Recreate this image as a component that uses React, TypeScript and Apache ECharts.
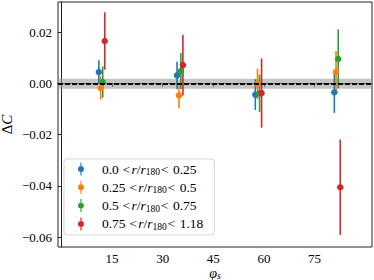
import React, { useEffect, useRef } from "react";
import * as echarts from "echarts";

// ---- data ----
const groupNames = [
  "0.0 < r/r180 < 0.25",
  "0.25 < r/r180 < 0.5",
  "0.5 < r/r180 < 0.75",
  "0.75 < r/r180 < 1.18",
];
const lowBounds = ["0.0", "0.25", "0.5", "0.75"];
const highBounds = ["0.25", "0.5", "0.75", "1.18"];
const colors = ["#1f77b4", "#ff7f0e", "#2ca02c", "#d62728"];

const phiBlue = [11.1, 34.25, 57.45, 80.85];
const dcBlue = [0.0044, 0.0031, -0.0044, -0.0035];
const errBlue = [0.0046, 0.0053, 0.006, 0.008];

const phiOrange = [11.65, 34.85, 58.1, 81.35];
const dcOrange = [-0.0018, -0.0047, -0.0002, 0.0044];
const errOrange = [0.0045, 0.005, 0.0059, 0.0082];

const phiGreen = [12.25, 35.4, 58.7, 82.0];
const dcGreen = [0.0005, 0.0048, -0.0039, 0.0095];
const errGreen = [0.0061, 0.007, 0.0073, 0.0115];

const phiRed = [12.85, 36.0, 59.3, 82.6];
const dcRed = [0.0165, 0.0071, -0.0038, -0.0405];
const errRed = [0.0112, 0.0118, 0.0135, 0.0186];

const xTicks = [15, 30, 45, 60, 75];
const yTicks = [-0.06, -0.04, -0.02, 0, 0.02];
const bandTop = 0.0018;
const bandBottom = -0.0021;
const refLevel = 0;

const groups = [
  { x: phiBlue, y: dcBlue, e: errBlue },
  { x: phiOrange, y: dcOrange, e: errOrange },
  { x: phiGreen, y: dcGreen, e: errGreen },
  { x: phiRed, y: dcRed, e: errRed },
];

const FONT = "Liberation Serif";
const ICON =
  "path://M4.4,0 L5.6,0 L5.6,14 L4.4,14 Z M1.8,7 A3.2,3.2 0 1,1 8.2,7 A3.2,3.2 0 1,1 1.8,7 Z";

export default function App() {
  const ref = useRef<HTMLDivElement>(null);
  useEffect(() => {
    if (!ref.current) return;
    const chart = echarts.init(ref.current, undefined, { renderer: "svg" });
    const series: any[] = [];
    series.push({
      type: "scatter",
      name: "band",
      data: [[xTicks[0], refLevel]],
      symbolSize: 0,
      silent: true,
      z: 1,
      markArea: {
        silent: true,
        itemStyle: { color: "rgba(150,150,150,0.55)" },
        data: [[{ yAxis: bandTop }, { yAxis: bandBottom }]],
      },
      markLine: {
        silent: true,
        symbol: "none",
        label: { show: false },
        lineStyle: { color: "#000", width: 2, type: [5, 2] },
        data: [{ yAxis: refLevel }],
      },
    });
    groups.forEach((g, i) => {
      const color = colors[i];
      series.push({
        type: "custom",
        name: groupNames[i],
        z: 2,
        data: g.x.map((x, k) => [x, g.y[k], g.e[k]]),
        encode: { x: 0, y: 1 },
        renderItem: (_p: any, api: any) => {
          const x = api.value(0);
          const y = api.value(1);
          const e = api.value(2);
          const a = api.coord([x, y + e]);
          const b = api.coord([x, y - e]);
          return {
            type: "line",
            shape: { x1: a[0], y1: a[1], x2: b[0], y2: b[1] },
            style: { stroke: color, lineWidth: 1.6 },
          };
        },
        itemStyle: { color },
      });
      series.push({
        type: "scatter",
        name: groupNames[i],
        z: 3,
        symbolSize: 6.5,
        itemStyle: { color, opacity: 1 },
        data: g.x.map((x, k) => [x, g.y[k]]),
      });
    });

    const textBase = { fontFamily: FONT, fontSize: 13.5, color: "#000" };
    chart.setOption({
      animation: false,
      grid: {
        left: 58,
        right: 2,
        top: 2,
        bottom: 33,
        containLabel: false,
        outerBoundsMode: "none",
        show: true,
        borderColor: "#222",
        borderWidth: 1,
      },
      xAxis: {
        type: "value",
        min: -1,
        max: 92,
        splitLine: { show: false },
        axisLine: { show: true, lineStyle: { color: "#222", width: 1 } },
        axisTick: {
          show: true,
          inside: false,
          length: 3.5,
          customValues: xTicks,
          lineStyle: { color: "#222" },
        },
        axisLabel: {
          customValues: xTicks,
          margin: 5,
          fontFamily: FONT,
          fontSize: 13,
          color: "#000",
        },
        name: "{i|φ}{s|s}",
        nameLocation: "middle",
        nameGap: 19,
        nameMoveOverlap: false,
        nameTextStyle: {
          rich: {
            i: { fontFamily: FONT, fontStyle: "italic", fontSize: 14, color: "#000", lineHeight: 15, verticalAlign: "middle" },
            s: { fontFamily: FONT, fontStyle: "italic", fontSize: 9.5, color: "#000", lineHeight: 9, verticalAlign: "bottom" },
          },
        },
      },
      yAxis: {
        type: "value",
        min: -0.0638,
        max: 0.0317,
        splitLine: { show: false },
        axisLine: { show: true, lineStyle: { color: "#222", width: 1 } },
        axisTick: {
          show: true,
          inside: false,
          length: 3.5,
          customValues: yTicks,
          lineStyle: { color: "#222" },
        },
        axisLabel: {
          customValues: yTicks,
          margin: 6,
          fontFamily: FONT,
          fontSize: 13,
          color: "#000",
          formatter: (v: number) =>
            (v < -1e-9 ? "\u2212" : "") + Math.abs(v).toFixed(2),
        },
        name: "{n|Δ}{i|C}",
        nameLocation: "middle",
        nameGap: 44,
        nameRotate: 90,
        nameMoveOverlap: false,
        nameTextStyle: {
          rich: {
            n: { fontFamily: FONT, fontSize: 15, color: "#000" },
            i: { fontFamily: FONT, fontStyle: "italic", fontSize: 15, color: "#000" },
          },
        },
      },
      legend: {
        orient: "vertical",
        left: 64,
        top: 159,
        selectedMode: false,
        data: groupNames.map((n) => ({ name: n, icon: ICON })),
        itemWidth: 10,
        itemHeight: 13,
        itemGap: 3.3,
        padding: [3, 11, 3, 14],
        backgroundColor: "#fff",
        borderColor: "#d5d5d5",
        borderWidth: 1,
        borderRadius: 3,
        formatter: (name: string) => {
          const i = groupNames.indexOf(name);
          return `{p|${lowBounds[i]}}{l|<}{i|r}{n|/}{i|r}{s|180}{m|<}{n| ${highBounds[i]}}`;
        },
        textStyle: {
          ...textBase,
          rich: {
            p: { ...textBase, padding: [0, 0, 0, 11], lineHeight: 16, verticalAlign: "middle" },
            n: { ...textBase, lineHeight: 16, verticalAlign: "middle" },
            l: { ...textBase, lineHeight: 16, verticalAlign: "middle", padding: [0, 1, 0, 4] },
            m: { ...textBase, lineHeight: 16, verticalAlign: "middle", padding: [0, 1, 0, 1] },
            i: { ...textBase, fontStyle: "italic", lineHeight: 16, verticalAlign: "middle" },
            s: { ...textBase, fontSize: 9.5, lineHeight: 9, verticalAlign: "bottom" },
          },
        },
      },
      series,
    });
    return () => chart.dispose();
  }, []);
  return (
    <div
      ref={ref}
      style={{ position: "fixed", left: 0, top: 0, width: 374, height: 280, background: "#fff" }}
    />
  );
}
